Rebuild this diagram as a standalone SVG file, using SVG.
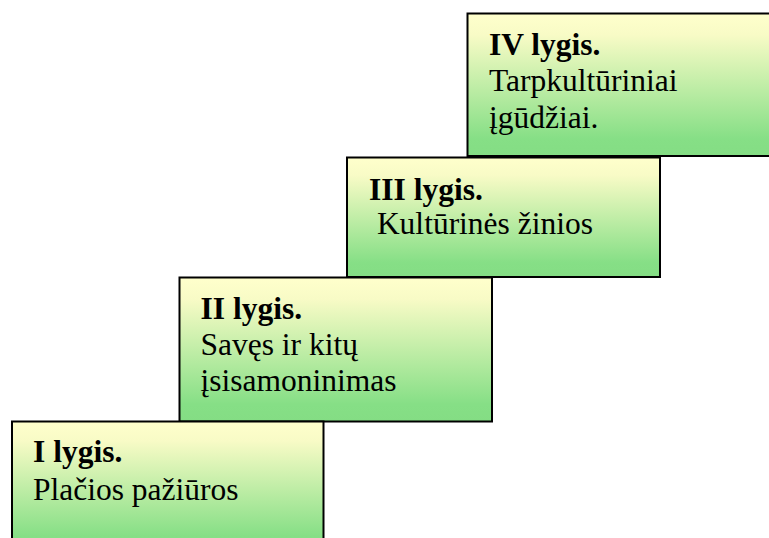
<svg xmlns="http://www.w3.org/2000/svg" width="769" height="538" viewBox="0 0 769 538">
  <defs>
    <linearGradient id="stepFill" x1="0" y1="0" x2="0" y2="1">
      <stop offset="0" stop-color="#FFFFCC"/>
      <stop offset="0.15" stop-color="#F8FBC6"/>
      <stop offset="0.88" stop-color="#86DF86"/>
      <stop offset="1" stop-color="#84DD84"/>
    </linearGradient>
  </defs>
  <style>
    .step { fill: url(#stepFill); stroke: #000; stroke-width: 2; }
    .title { font-family: "Liberation Serif", "Times New Roman", serif; font-size: 31.5px; font-weight: bold; fill: #000; }
    .body { font-family: "Liberation Serif", "Times New Roman", serif; font-size: 31.5px; fill: #000; }
  </style>
  <rect width="769" height="538" fill="#fff"/>

  <g id="level-4">
    <rect class="step" x="467.5" y="13.5" width="320" height="142.5"/>
    <text class="title" x="489" y="55">IV lygis.</text>
    <text class="body" x="489" y="91">Tarpkultūriniai</text>
    <text class="body" x="489" y="128">įgūdžiai.</text>
  </g>

  <g id="level-3">
    <rect class="step" x="347" y="157.5" width="313" height="119.5"/>
    <text class="title" x="369" y="199.5">III lygis.</text>
    <text class="body" x="369" y="234" xml:space="preserve"> Kultūrinės žinios</text>
  </g>

  <g id="level-2">
    <rect class="step" x="179.5" y="277.5" width="312.5" height="144"/>
    <text class="title" x="200.5" y="318.5">II lygis.</text>
    <text class="body" x="200.5" y="355">Savęs ir kitų</text>
    <text class="body" x="200.5" y="391">įsisamoninimas</text>
  </g>

  <g id="level-1">
    <rect class="step" x="12" y="421.5" width="311.5" height="130"/>
    <text class="title" x="33" y="462">I lygis.</text>
    <text class="body" x="33" y="499.5">Plačios pažiūros</text>
  </g>

  <g id="connectors"/>
</svg>
